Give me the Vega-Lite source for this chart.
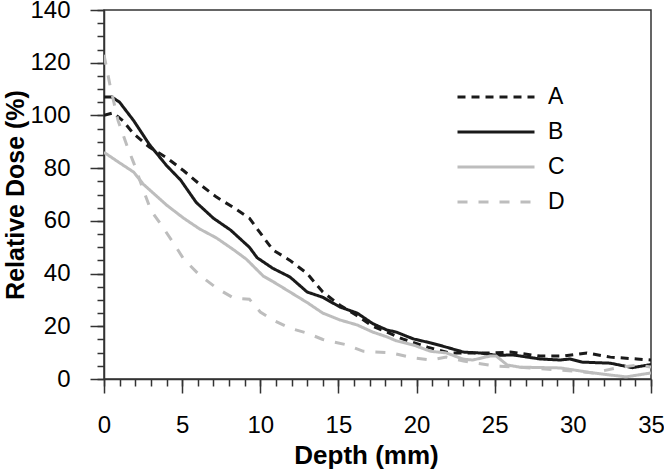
{
  "$schema": "https://vega.github.io/schema/vega-lite/v6.json",
  "width": 547,
  "height": 369,
  "autosize": "none",
  "padding": {"left": 104, "top": 10, "right": 13, "bottom": 92},
  "background": "white",
  "config": {
    "font": "Liberation Sans",
    "view": {"stroke": "#333333", "strokeWidth": 1.5},
    "axis": {"grid": false, "domainColor": "#333333", "tickColor": "#333333", "domainWidth": 1.5, "tickWidth": 1.5, "labelColor": "#000000", "titleColor": "#000000"}
  },
  "data": {"values": [
    {"s":"A","d":0,"v":100},{"s":"A","d":0.6,"v":101},{"s":"A","d":1.2,"v":98},{"s":"A","d":1.9,"v":93},{"s":"A","d":2.9,"v":88},{"s":"A","d":4,"v":84},{"s":"A","d":5.1,"v":79},{"s":"A","d":6.1,"v":74},{"s":"A","d":7.2,"v":69},{"s":"A","d":8.3,"v":65},{"s":"A","d":9.3,"v":61},{"s":"A","d":9.8,"v":57},{"s":"A","d":10.8,"v":49},{"s":"A","d":11.9,"v":45},{"s":"A","d":13,"v":40},{"s":"A","d":14,"v":33},{"s":"A","d":15.1,"v":28},{"s":"A","d":16.2,"v":24},{"s":"A","d":17.2,"v":20},{"s":"A","d":18.1,"v":17.8},{"s":"A","d":19.1,"v":15.2},{"s":"A","d":20.7,"v":12.1},{"s":"A","d":22.1,"v":9.9},{"s":"A","d":23.2,"v":9.9},{"s":"A","d":24.9,"v":9.9},{"s":"A","d":26,"v":10.2},{"s":"A","d":27.9,"v":8.7},{"s":"A","d":29.4,"v":8.7},{"s":"A","d":30.9,"v":9.9},{"s":"A","d":32.4,"v":8.3},{"s":"A","d":34.1,"v":7.6},{"s":"A","d":35,"v":7.2},
    {"s":"B","d":0,"v":107},{"s":"B","d":0.5,"v":107},{"s":"B","d":1,"v":105},{"s":"B","d":1.9,"v":98},{"s":"B","d":2.9,"v":89},{"s":"B","d":4,"v":81},{"s":"B","d":4.9,"v":75.5},{"s":"B","d":5.9,"v":67},{"s":"B","d":7,"v":61},{"s":"B","d":8.1,"v":56.5},{"s":"B","d":9.3,"v":50},{"s":"B","d":9.8,"v":46},{"s":"B","d":10.8,"v":42},{"s":"B","d":11.9,"v":38.7},{"s":"B","d":13,"v":33},{"s":"B","d":14,"v":31},{"s":"B","d":15.1,"v":27.3},{"s":"B","d":16.2,"v":25},{"s":"B","d":17.2,"v":21},{"s":"B","d":18.1,"v":18.6},{"s":"B","d":18.7,"v":17.8},{"s":"B","d":19.8,"v":15.2},{"s":"B","d":20.9,"v":13.7},{"s":"B","d":21.9,"v":12.1},{"s":"B","d":23,"v":10.2},{"s":"B","d":24,"v":9.9},{"s":"B","d":25.1,"v":9},{"s":"B","d":26.2,"v":9.1},{"s":"B","d":27.9,"v":7.6},{"s":"B","d":29.2,"v":7.2},{"s":"B","d":29.8,"v":7.6},{"s":"B","d":30.6,"v":6.4},{"s":"B","d":32.4,"v":6},{"s":"B","d":33.8,"v":4.3},{"s":"B","d":35,"v":5.5},
    {"s":"C","d":0,"v":86},{"s":"C","d":1,"v":82},{"s":"C","d":1.9,"v":78.5},{"s":"C","d":2.5,"v":74},{"s":"C","d":4,"v":66},{"s":"C","d":5.1,"v":61},{"s":"C","d":6.1,"v":57},{"s":"C","d":7.2,"v":53.5},{"s":"C","d":8.3,"v":49},{"s":"C","d":9.1,"v":45.5},{"s":"C","d":10.2,"v":39},{"s":"C","d":10.8,"v":37},{"s":"C","d":11.9,"v":33},{"s":"C","d":13,"v":29},{"s":"C","d":14,"v":25},{"s":"C","d":15.1,"v":22.4},{"s":"C","d":16.2,"v":20.5},{"s":"C","d":17.2,"v":17.8},{"s":"C","d":18.1,"v":16},{"s":"C","d":18.7,"v":14.5},{"s":"C","d":19.8,"v":12.9},{"s":"C","d":20.9,"v":10.5},{"s":"C","d":21.9,"v":9.9},{"s":"C","d":23,"v":7.5},{"s":"C","d":23.6,"v":7.2},{"s":"C","d":24.7,"v":8.7},{"s":"C","d":25.1,"v":8.7},{"s":"C","d":25.8,"v":5.3},{"s":"C","d":26.6,"v":4.5},{"s":"C","d":29.2,"v":4.2},{"s":"C","d":31.3,"v":2.3},{"s":"C","d":33.4,"v":0.8},{"s":"C","d":35,"v":2.3},
    {"s":"D","d":0,"v":123},{"s":"D","d":0.4,"v":111},{"s":"D","d":0.9,"v":98},{"s":"D","d":1.5,"v":88},{"s":"D","d":1.9,"v":82},{"s":"D","d":2.5,"v":72},{"s":"D","d":3,"v":64},{"s":"D","d":3.6,"v":59},{"s":"D","d":4.4,"v":52},{"s":"D","d":5.1,"v":45.5},{"s":"D","d":6.1,"v":39.5},{"s":"D","d":7.2,"v":34.5},{"s":"D","d":8.3,"v":30.7},{"s":"D","d":9.3,"v":30.3},{"s":"D","d":10,"v":25.4},{"s":"D","d":10.8,"v":22.4},{"s":"D","d":11.9,"v":19.3},{"s":"D","d":13,"v":17.4},{"s":"D","d":14,"v":15},{"s":"D","d":15.5,"v":13},{"s":"D","d":16.6,"v":10.5},{"s":"D","d":18.3,"v":10},{"s":"D","d":19.8,"v":8},{"s":"D","d":20.9,"v":7.2},{"s":"D","d":21.9,"v":8.3},{"s":"D","d":23,"v":6.8},{"s":"D","d":25.1,"v":4.9},{"s":"D","d":26.6,"v":4.5},{"s":"D","d":29.2,"v":3.4},{"s":"D","d":31.3,"v":2.3},{"s":"D","d":32.8,"v":4.2},{"s":"D","d":34.1,"v":5.3},{"s":"D","d":35,"v":4.5}
  ]},
  "layer": [
    {
      "mark": {"type": "point", "opacity": 0},
      "encoding": {
        "x": {"field": "d", "type": "quantitative", "scale": {"domain": [0, 35], "nice": false},
              "axis": {"orient": "bottom", "values": [0,1,2,3,4,5,6,7,8,9,10,11,12,13,14,15,16,17,18,19,20,21,22,23,24,25,26,27,28,29,30,31,32,33,34,35], "tickSize": 7, "labels": false, "title": null, "domain": false}},
        "y": {"field": "v", "type": "quantitative", "scale": {"domain": [0, 140], "nice": false},
              "axis": {"orient": "left", "values": [0,5,10,15,20,25,30,35,40,45,50,55,60,65,70,75,80,85,90,95,100,105,110,115,120,125,130,135,140], "tickSize": 7, "labels": false, "title": null, "domain": false}}
      }
    },
    {
      "mark": {"type": "line", "strokeWidth": 3, "clip": true},
      "encoding": {
        "x": {"field": "d", "type": "quantitative",
              "axis": {"orient": "bottom", "values": [0,5,10,15,20,25,30,35], "tickSize": 14, "labelFontSize": 24, "labelPadding": 20, "title": "Depth (mm)", "titleFontSize": 26, "titleFontWeight": "bold", "titlePadding": 5, "titleX": 262, "labelFlush": false}},
        "y": {"field": "v", "type": "quantitative",
              "axis": {"orient": "left", "values": [0,20,40,60,80,100,120,140], "tickSize": 14, "labelFontSize": 24, "labelPadding": 20, "title": "Relative Dose (%)", "titleFontSize": 25, "titleFontWeight": "bold", "titlePadding": 1, "labelFlush": false}},
        "color": {"field": "s", "type": "nominal",
                  "scale": {"domain": ["A","B","C","D"], "range": ["#1a1a1a","#1a1a1a","#bdbdbd","#bdbdbd"]},
                  "legend": {"orient": "none", "legendX": 352, "legendY": 77, "title": null, "symbolType": "stroke", "symbolSize": 5929, "symbolStrokeWidth": 3, "clipHeight": 20, "rowPadding": 12, "labelFontSize": 23, "labelOffset": 12, "labelColor": "#000000"}},
        "strokeDash": {"field": "s", "type": "nominal",
                       "scale": {"domain": ["A","B","C","D"], "range": [[8,6],[1,0],[1,0],[10,11]]}}
      }
    }
  ],
  "resolve": {"axis": {"x": "independent", "y": "independent"}}
}
